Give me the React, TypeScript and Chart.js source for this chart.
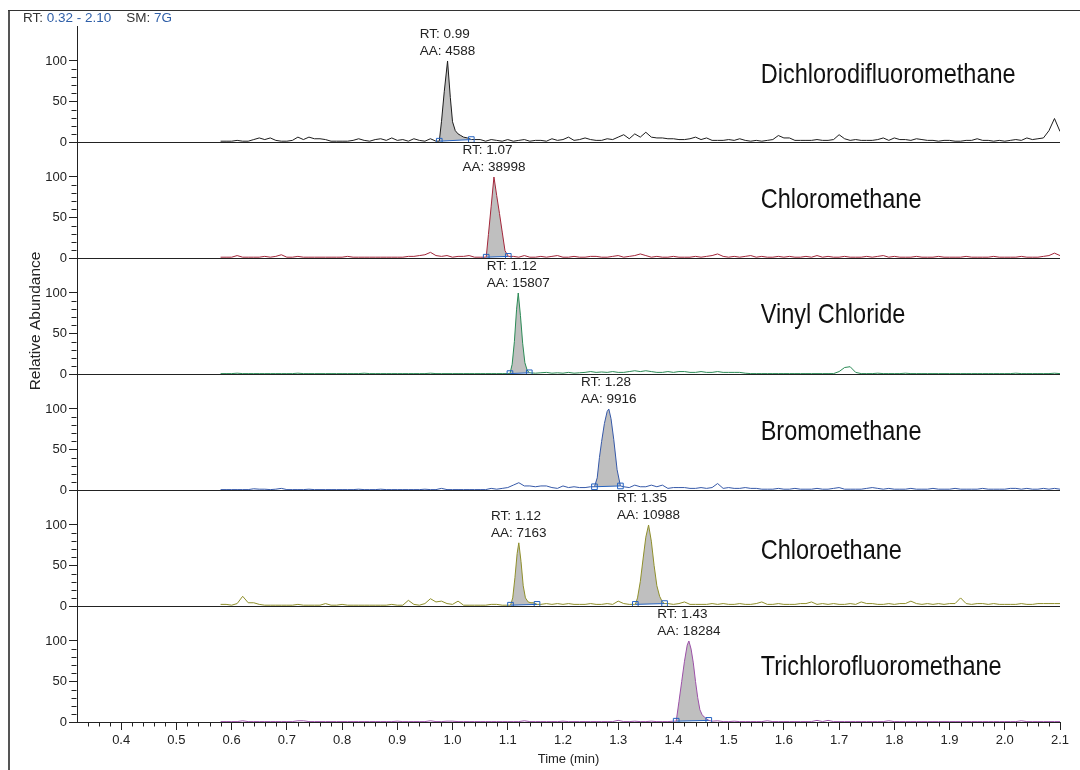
import React, { useEffect, useRef } from 'react';
import { Chart, registerables } from 'chart.js';

Chart.register(...registerables);

// ---------- data ----------
// Scan times: the traces start at 0.58 min and are read every 0.01 min up to 2.10 min
const TRACE_START = 0.58;
const TRACE_STEP = 0.01;

const compoundNames = [
  'Dichlorodifluoromethane',
  'Chloromethane',
  'Vinyl Chloride',
  'Bromomethane',
  'Chloroethane',
  'Trichlorofluoromethane',
];

const traceColors = ['#1c1c1c', '#a3263a', '#2a8a55', '#3558a8', '#8f8f2a', '#9c50a8'];

// relative abundance (%) of each trace, 0.58 .. 2.10 min, step 0.01
const dichlorodifluoromethane = [
  1, 1, 1, 2, 1, 1, 3, 5, 3, 5,
  2, 1, 1, 2, 6, 3, 6, 4, 4, 3,
  1, 1, 1, 1, 2, 4, 2, 1, 3, 4,
  2, 5, 2, 3, 1, 4, 2, 1, 4, 1,
  25, 96, 25, 10, 6, 4, 3, 3, 1, 3,
  2, 1, 3, 1, 2, 3, 1, 2, 2, 1,
  4, 2, 3, 6, 2, 3, 5, 3, 2, 2,
  4, 3, 6, 9, 4, 10, 6, 12, 6, 5,
  5, 4, 4, 3, 3, 4, 6, 3, 5, 2,
  2, 2, 3, 2, 4, 2, 1, 2, 1, 2,
  3, 8, 5, 5, 2, 2, 2, 2, 3, 2,
  2, 3, 9, 4, 2, 3, 2, 2, 2, 3,
  5, 2, 5, 3, 3, 2, 4, 3, 2, 2,
  1, 2, 2, 1, 1, 2, 2, 4, 2, 2,
  1, 2, 1, 2, 3, 2, 5, 3, 4, 5,
  14, 29, 13,
];

const chloromethane = [
  1, 1, 1, 3, 1, 1, 1, 1, 2, 1,
  2, 4, 1, 1, 2, 1, 1, 1, 1, 1,
  1, 1, 1, 2, 1, 1, 1, 1, 1, 1,
  1, 1, 1, 1, 2, 2, 3, 4, 7, 3,
  2, 3, 1, 2, 2, 3, 1, 1, 1, 64,
  77, 32, 2, 2, 1, 3, 1, 1, 2, 1,
  2, 3, 1, 1, 2, 1, 1, 2, 2, 1,
  1, 2, 3, 1, 2, 3, 5, 3, 1, 2,
  1, 1, 2, 1, 1, 1, 2, 1, 2, 3,
  5, 2, 1, 2, 1, 2, 3, 1, 2, 1,
  1, 2, 1, 2, 1, 1, 2, 1, 3, 1,
  2, 1, 1, 2, 1, 1, 1, 2, 1, 2,
  3, 1, 2, 1, 1, 1, 2, 1, 1, 1,
  2, 1, 1, 1, 1, 2, 1, 1, 1, 1,
  2, 1, 1, 1, 1, 2, 1, 1, 1, 2,
  3, 6, 3,
];

const vinylChloride = [
  0.5, 0.5, 0.5, 1, 0.5, 0.5, 0.5, 0.5, 0.5, 0.5,
  0.5, 0.5, 0.5, 0.5, 1, 0.5, 0.5, 0.5, 0.5, 0.5,
  0.5, 0.5, 0.5, 0.5, 0.5, 0.5, 1, 0.5, 0.5, 0.5,
  0.5, 0.5, 0.5, 0.5, 0.5, 0.5, 0.5, 0.5, 1, 0.5,
  0.5, 0.5, 0.5, 0.5, 0.5, 0.5, 0.5, 0.5, 0.5, 0.5,
  0.5, 0.5, 0.5, 26, 95, 20, 1.5, 1, 1.5, 2,
  1, 1.5, 1, 2, 1, 1.5, 2, 3, 2, 2.5,
  2, 3, 2, 2, 3, 4, 3, 4, 3, 2,
  2, 3, 2, 3, 3, 2, 2, 3, 2, 2,
  3, 2, 2, 2, 2, 1, 0.5, 0.5, 0.5, 0.5,
  0.5, 0.5, 0.5, 0.5, 0.5, 0.5, 0.5, 0.5, 0.5, 0.5,
  0.5, 0.5, 3, 8, 9, 2, 0.5, 0.5, 0.5, 1,
  0.5, 0.5, 0.5, 0.5, 1, 0.5, 0.5, 0.5, 0.5, 0.5,
  0.5, 0.5, 0.5, 0.5, 0.5, 0.5, 0.5, 0.5, 0.5, 0.5,
  0.5, 0.5, 0.5, 0.5, 1, 0.5, 0.5, 0.5, 0.5, 0.5,
  0.5, 1, 0.5,
];

const bromomethane = [
  0.5, 0.5, 0.5, 0.5, 0.5, 0.5, 1.5, 1, 1, 0.5,
  1, 2, 0.5, 0.5, 0.5, 0.5, 1, 0.5, 0.5, 0.5,
  0.5, 0.5, 0.5, 0.5, 0.5, 1, 0.5, 0.5, 0.5, 1,
  0.5, 0.5, 0.5, 0.5, 0.5, 0.5, 0.5, 1, 0.5, 0.5,
  2, 0.5, 0.5, 0.5, 0.5, 0.5, 0.5, 0.5, 0.5, 2,
  1, 2, 3, 6, 9, 5, 5, 4, 5, 5,
  3, 2, 5, 3, 4, 3, 3, 4, 10, 60,
  97, 68, 15, 4, 3, 6, 4, 4, 6, 4,
  6, 2, 3, 3, 3, 2, 2, 3, 2, 3,
  8, 2, 3, 2, 2, 3, 2, 2, 1, 1,
  1, 2, 1, 1, 2, 1, 1, 1, 2, 1,
  1, 2, 3, 1, 1, 1, 1, 2, 3, 2,
  1, 2, 1, 1, 1, 2, 1, 1, 1, 2,
  1, 1, 1, 2, 1, 1, 1, 1, 2, 1,
  1, 1, 1, 2, 2, 1, 2, 1, 1, 2,
  1, 2, 1,
];

const chloroethane = [
  2, 2, 1, 3, 12, 4, 4, 2, 1, 1,
  1, 1, 1, 1, 2, 1, 1, 1, 1, 3,
  1, 1, 2, 1, 1, 1, 1, 1, 1, 1,
  1, 2, 1, 1, 7, 2, 1, 3, 9, 5,
  6, 3, 2, 6, 1, 1, 1, 1, 1, 2,
  2, 1, 1, 15, 78, 18, 4, 3, 2, 3,
  2, 3, 2, 3, 2, 2, 2, 3, 2, 2,
  3, 2, 6, 3, 2, 2, 30, 85, 80, 25,
  5, 3, 2, 3, 5, 2, 2, 2, 2, 3,
  2, 3, 2, 2, 3, 2, 2, 3, 5, 2,
  2, 3, 2, 2, 2, 3, 3, 5, 2, 3,
  2, 3, 2, 2, 3, 2, 5, 3, 3, 2,
  2, 3, 2, 3, 3, 6, 3, 2, 3, 2,
  3, 2, 3, 3, 10, 3, 2, 3, 3, 2,
  3, 2, 2, 2, 2, 3, 2, 2, 3, 3,
  3, 3, 3,
];

const trichlorofluoromethane = [
  0.5, 0.5, 0.5, 0.5, 1.5, 0.5, 0.5, 0.5, 0.5, 0.5,
  0.5, 0.5, 0.5, 0.5, 1.5, 1.5, 0.5, 0.5, 0.5, 0.5,
  0.5, 0.5, 0.5, 0.5, 0.5, 0.5, 0.5, 0.5, 0.5, 0.5,
  0.5, 0.5, 1, 0.5, 0.5, 0.5, 0.5, 0.5, 1.5, 0.5,
  0.5, 1, 1, 0.5, 0.5, 0.5, 0.5, 0.5, 0.5, 0.5,
  0.5, 0.5, 0.5, 0.5, 0.5, 1.5, 0.5, 0.5, 0.5, 0.5,
  0.5, 0.5, 1, 0.5, 0.5, 0.5, 0.5, 0.5, 0.5, 0.5,
  0.5, 0.5, 2, 0.5, 0.5, 1, 0.5, 0.5, 1, 0.5,
  0.5, 0.5, 1, 25, 75, 90, 50, 12, 4, 1,
  1.5, 0.5, 0.5, 1, 0.5, 0.5, 0.5, 0.5, 0.5, 1.5,
  0.5, 0.5, 0.5, 0.5, 0.5, 0.5, 0.5, 0.5, 2, 0.5,
  2, 0.5, 0.5, 0.5, 0.5, 0.5, 0.5, 0.5, 0.5, 0.5,
  0.5, 1.5, 0.5, 0.5, 0.5, 0.5, 0.5, 0.5, 0.5, 0.5,
  0.5, 0.5, 0.5, 0.5, 0.5, 0.5, 0.5, 0.5, 0.5, 0.5,
  0.5, 0.5, 0.5, 0.5, 0.5, 1.5, 0.5, 0.5, 0.5, 0.5,
  0.5, 0.5, 0.5,
];

const traces = [dichlorodifluoromethane, chloromethane, vinylChloride, bromomethane, chloroethane, trichlorofluoromethane];

// integrated peaks, finer sampling (min, %)
const peakTimesA = [0.976, 0.98, 0.985, 0.991, 0.996, 1.0, 1.005, 1.01, 1.015, 1.02, 1.027, 1.034];
const peakValuesA = [1, 25, 62, 100, 55, 25, 14, 10, 8, 6, 5, 3];
const peakTimesB = [1.061, 1.065, 1.07, 1.075, 1.08, 1.085, 1.09, 1.095, 1.101];
const peakValuesB = [1, 29, 64, 100, 77, 55, 32, 9, 2];
const peakTimesC = [1.104, 1.108, 1.112, 1.116, 1.119, 1.123, 1.127, 1.131, 1.135, 1.139];
const peakValuesC = [0.5, 12, 40, 80, 100, 72, 38, 14, 5, 1.5];
const peakTimesD = [1.257, 1.262, 1.266, 1.27, 1.275, 1.28, 1.283, 1.287, 1.292, 1.298, 1.304];
const peakValuesD = [4, 15, 40, 60, 82, 97, 100, 88, 62, 25, 5];
const peakTimesE = [1.105, 1.109, 1.113, 1.117, 1.12, 1.124, 1.128, 1.132, 1.137, 1.142, 1.147, 1.153];
const peakValuesE = [1, 10, 35, 65, 78, 55, 25, 10, 5, 4, 4, 2];
const peakTimesF = [1.331, 1.335, 1.34, 1.345, 1.35, 1.355, 1.36, 1.365, 1.37, 1.375, 1.38, 1.384];
const peakValuesF = [2, 10, 30, 58, 85, 100, 80, 50, 25, 12, 5, 3];
const peakTimesG = [1.405, 1.41, 1.415, 1.42, 1.425, 1.428, 1.432, 1.436, 1.44, 1.444, 1.448, 1.452, 1.456, 1.46, 1.464];
const peakValuesG = [1, 25, 50, 75, 95, 100, 90, 73, 50, 30, 15, 9, 6, 4, 2];

const peakTimes = [peakTimesA, peakTimesB, peakTimesC, peakTimesD, peakTimesE, peakTimesF, peakTimesG];
const peakValues = [peakValuesA, peakValuesB, peakValuesC, peakValuesD, peakValuesE, peakValuesF, peakValuesG];
const peakPanel = [0, 1, 2, 3, 4, 4, 5];
const peakRT = ['0.99', '1.07', '1.12', '1.28', '1.12', '1.35', '1.43'];
const peakAA = ['4588', '38998', '15807', '9916', '7163', '10988', '18284'];

const xTickLabels = ['0.4', '0.5', '0.6', '0.7', '0.8', '0.9', '1.0', '1.1', '1.2', '1.3', '1.4', '1.5', '1.6', '1.7', '1.8', '1.9', '2.0', '2.1'];
const yTickLabels = ['0', '50', '100'];

// ---------- layout / style ----------
const X_MIN = 0.32;
const X_MAX = 2.10;
const Y_MAX = 143.2; // each panel: 0..100 plus headroom for peak labels
const NAME_TIME = 1.558; // left edge of the compound names (min)
const NAME_LEVEL = [82, 71, 72, 71, 67, 68];
const FONT = '"Liberation Sans", Arial, sans-serif';
const NAME_FONT = '28px "Liberation Sans", Arial, sans-serif';
const NAME_SQUEEZE = 0.84; // condensed look of the compound names
const SMALL_FONT = `13.5px ${FONT}`;
const TEXT_COLOR = '#222';
const AXIS_COLOR = '#222';
const FILL_GRAY = '#bfbfbf';
const BASELINE_BLUE = '#2563c0';

function buildTrace(p: number) {
  const values = traces[p];
  const windows: [number, number][] = [];
  const pts: { x: number; y: number }[] = [];
  peakPanel.forEach((panel, k) => {
    if (panel !== p) return;
    const ts = peakTimes[k];
    windows.push([ts[0], ts[ts.length - 1]]);
    ts.forEach((t, i) => pts.push({ x: t, y: peakValues[k][i] }));
  });
  values.forEach((v, i) => {
    const t = Math.round((TRACE_START + i * TRACE_STEP) * 1000) / 1000;
    if (windows.some(([a, b]) => t >= a - 1e-9 && t <= b + 1e-9)) return;
    pts.push({ x: t, y: v });
  });
  pts.sort((a, b) => a.x - b.x);
  return pts;
}

const annotatePlugin = {
  id: 'annotate',
  afterDraw(chart: any) {
    const ctx: CanvasRenderingContext2D = chart.ctx;
    const xs = chart.scales.x;
    const area = chart.chartArea;
    ctx.save();

    // frame
    ctx.strokeStyle = '#555';
    ctx.lineWidth = 2;
    ctx.beginPath();
    ctx.moveTo(9, 10);
    ctx.lineTo(9, 770);
    ctx.stroke();
    ctx.strokeStyle = '#333';
    ctx.lineWidth = 1;
    ctx.beginPath();
    ctx.moveTo(8, 10.5);
    ctx.lineTo(1080, 10.5);
    ctx.stroke();

    // header
    ctx.font = SMALL_FONT;
    ctx.textBaseline = 'middle';
    ctx.textAlign = 'left';
    const parts: [string, string][] = [
      ['RT: ', '#333'],
      ['0.32 - 2.10', '#2f5fa8'],
      ['    SM: ', '#333'],
      ['7G', '#2f5fa8'],
    ];
    let hx = 23;
    parts.forEach(([t, c]) => {
      ctx.fillStyle = c;
      ctx.fillText(t, hx, 18);
      hx += ctx.measureText(t).width;
    });

    // minor ticks
    ctx.strokeStyle = AXIS_COLOR;
    ctx.lineWidth = 1;
    for (let p = 0; p < 6; p++) {
      const ys = chart.scales['y' + p];
      const ax = Math.round(ys.right) - 0.5;
      for (let v = 10; v < 100; v += 10) {
        if (v === 50) continue;
        const py = Math.round(ys.getPixelForValue(v)) + 0.5;
        ctx.beginPath();
        ctx.moveTo(ax - 5, py);
        ctx.lineTo(ax, py);
        ctx.stroke();
      }
    }
    for (let i = 1; i < 90; i++) {
      if (i % 5 === 4) continue; // majors at 0.40, 0.50, ...
      const t = X_MIN + i * 0.02;
      if (t > X_MAX + 1e-9) break;
      const px = Math.round(xs.getPixelForValue(t)) + 0.5;
      ctx.beginPath();
      ctx.moveTo(px, area.bottom);
      ctx.lineTo(px, area.bottom + 4.5);
      ctx.stroke();
    }

    // y-axis title
    ctx.save();
    ctx.translate(36, 321);
    ctx.rotate(-Math.PI / 2);
    ctx.textAlign = 'center';
    ctx.fillStyle = TEXT_COLOR;
    ctx.font = `15.5px ${FONT}`;
    ctx.fillText('Relative Abundance', 0, 0);
    ctx.restore();

    // compound names
    ctx.font = NAME_FONT;
    ctx.fillStyle = '#111';
    ctx.textAlign = 'left';
    compoundNames.forEach((name, p) => {
      const ys = chart.scales['y' + p];
      ctx.save();
      ctx.translate(xs.getPixelForValue(NAME_TIME), ys.getPixelForValue(NAME_LEVEL[p]));
      ctx.scale(NAME_SQUEEZE, 1);
      ctx.fillText(name, 0, 0);
      ctx.restore();
    });

    // peak labels
    ctx.font = SMALL_FONT;
    ctx.fillStyle = TEXT_COLOR;
    peakPanel.forEach((p, k) => {
      const vals = peakValues[k];
      let im = 0;
      vals.forEach((v, i) => { if (v > vals[im]) im = i; });
      const ys = chart.scales['y' + p];
      const px = xs.getPixelForValue(peakTimes[k][im]);
      const py = ys.getPixelForValue(vals[im]);
      const l1 = 'RT: ' + peakRT[k];
      const l2 = 'AA: ' + peakAA[k];
      const w = Math.max(ctx.measureText(l1).width, ctx.measureText(l2).width);
      ctx.fillText(l1, px - w / 2, py - 27);
      ctx.fillText(l2, px - w / 2, py - 10);
    });

    ctx.restore();
  },
};

export default function App() {
  const ref = useRef<HTMLCanvasElement>(null);

  useEffect(() => {
    const datasets: any[] = [];
    for (let p = 0; p < 6; p++) {
      datasets.push({
        label: compoundNames[p],
        data: buildTrace(p),
        yAxisID: 'y' + p,
        borderColor: traceColors[p],
        borderWidth: 1,
        pointRadius: 0,
        fill: false,
        order: 1,
      });
    }
    peakPanel.forEach((p, k) => {
      const ts = peakTimes[k];
      const vs = peakValues[k];
      datasets.push({
        label: 'peak ' + peakRT[k],
        data: ts.map((t, i) => ({ x: t, y: vs[i] })),
        yAxisID: 'y' + p,
        borderWidth: 0,
        borderColor: 'rgba(0,0,0,0)',
        backgroundColor: FILL_GRAY,
        pointRadius: 0,
        fill: '+1',
        order: 2,
      });
      datasets.push({
        label: 'baseline ' + peakRT[k],
        data: [
          { x: ts[0], y: vs[0] },
          { x: ts[ts.length - 1], y: vs[vs.length - 1] },
        ],
        yAxisID: 'y' + p,
        borderColor: BASELINE_BLUE,
        borderWidth: 1,
        pointStyle: 'rect',
        pointRadius: 4,
        pointBorderWidth: 1,
        pointBorderColor: BASELINE_BLUE,
        pointBackgroundColor: 'rgba(255,255,255,0)',
        fill: false,
        order: 0,
      });
    });

    const scales: any = {
      x: {
        type: 'linear',
        position: 'bottom',
        min: X_MIN,
        max: X_MAX,
        afterBuildTicks: (s: any) => {
          s.ticks = xTickLabels.map((l) => ({ value: parseFloat(l) }));
        },
        ticks: {
          autoSkip: false,
          maxRotation: 0,
          padding: 3,
          color: TEXT_COLOR,
          font: { size: 13 },
          callback: (v: any) => xTickLabels.find((l) => Math.abs(parseFloat(l) - v) < 1e-6) || '',
        },
        grid: { drawOnChartArea: false, tickLength: 8, tickColor: AXIS_COLOR },
        border: { color: AXIS_COLOR, width: 1 },
        title: {
          display: true,
          text: 'Time (min)',
          color: TEXT_COLOR,
          font: { size: 13 },
          padding: { top: 0, bottom: 3 },
        },
        afterFit: (s: any) => { s.height = 48; },
      },
    };
    for (let p = 0; p < 6; p++) {
      scales['y' + p] = {
        type: 'linear',
        position: 'left',
        stack: 'panels',
        stackWeight: 1,
        weight: 6 - p,
        min: 0,
        max: Y_MAX,
        afterBuildTicks: (s: any) => {
          s.ticks = yTickLabels.map((l) => ({ value: parseFloat(l) }));
        },
        ticks: {
          padding: 2,
          color: TEXT_COLOR,
          font: { size: 13 },
          callback: (v: any) => yTickLabels.find((l) => parseFloat(l) === v) || '',
        },
        grid: {
          drawOnChartArea: true,
          color: (c: any) => (c.tick && c.tick.value === 0 ? AXIS_COLOR : 'rgba(0,0,0,0)'),
          tickLength: 8,
          tickColor: AXIS_COLOR,
        },
        border: { display: true, color: AXIS_COLOR, width: 1 },
        afterFit: (s: any) => { s.width = 77; },
      };
    }

    Chart.defaults.font.family = FONT;
    const chart = new Chart(ref.current as HTMLCanvasElement, {
      type: 'line',
      data: { datasets },
      options: {
        animation: false,
        responsive: false,
        devicePixelRatio: 1,
        events: [],
        layout: { padding: { left: 0, right: 20, top: 26, bottom: 0 } },
        plugins: { legend: { display: false }, tooltip: { enabled: false } },
        scales,
      },
      plugins: [annotatePlugin],
    } as any);
    return () => chart.destroy();
  }, []);

  return (
    <canvas
      ref={ref}
      width={1080}
      height={770}
      style={{ position: 'absolute', left: 0, top: 0, width: 1080, height: 770, display: 'block' }}
    />
  );
}
